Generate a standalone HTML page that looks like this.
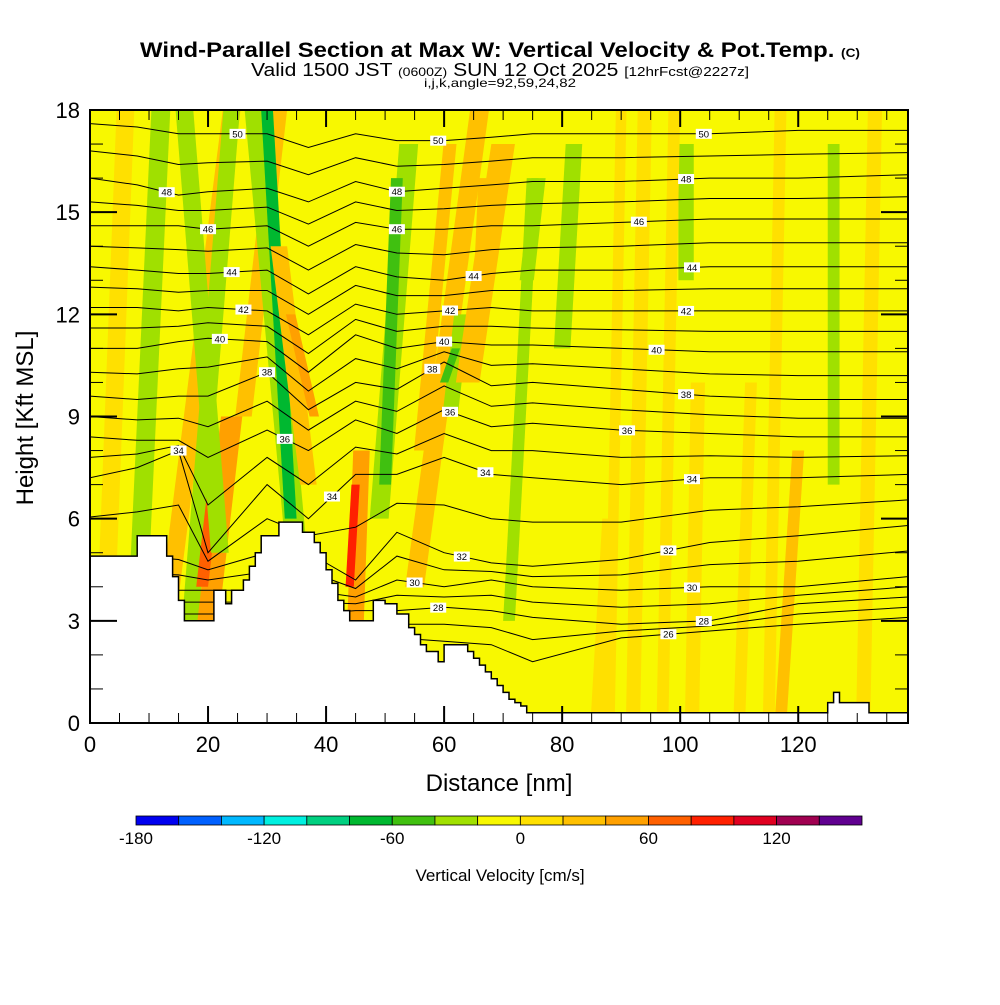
<!DOCTYPE html>
<html><head><meta charset="utf-8">
<style>
body{margin:0;background:#fff;font-family:"Liberation Sans",sans-serif;}
svg text{font-family:"Liberation Sans",sans-serif;}
</style></head>
<body>
<svg id="chart" width="1000" height="1000" viewBox="0 0 1000 1000" xmlns="http://www.w3.org/2000/svg">
<rect width="1000" height="1000" fill="#fff"/>
<text x="500" y="57" text-anchor="middle" font-size="21" font-weight="bold" textLength="720" lengthAdjust="spacingAndGlyphs">Wind-Parallel Section at Max W: Vertical Velocity &amp; Pot.Temp. <tspan font-size="12">(C)</tspan></text>
<text x="500" y="76" text-anchor="middle" font-size="18" textLength="498" lengthAdjust="spacingAndGlyphs">Valid 1500 JST <tspan font-size="12">(0600Z)</tspan> SUN 12 Oct 2025 <tspan font-size="13">[12hrFcst@2227z]</tspan></text>
<text x="500" y="87" text-anchor="middle" font-size="12" textLength="152" lengthAdjust="spacingAndGlyphs">i,j,k,angle=92,59,24,82</text>
<defs><clipPath id="plotclip"><rect x="90" y="110" width="818" height="613"/></clipPath></defs>
<g id="plot" clip-path="url(#plotclip)"></g>
<g id="axes"></g>
<g id="cbar"></g>
<text x="499" y="791" text-anchor="middle" font-size="24">Distance [nm]</text>
<text x="0" y="0" text-anchor="middle" font-size="24" transform="translate(33 418) rotate(-90)">Height [Kft MSL]</text>
<text x="500" y="881" text-anchor="middle" font-size="17">Vertical Velocity [cm/s]</text>
</svg>
<script>
// ---- data ----
const xTicks=[0,20,40,60,80,100,120];
const yTicks=[0,3,6,9,12,15,18];
const cbLevels=[-180,-160,-140,-120,-100,-80,-60,-40,-20,0,20,40,60,80,100,120,140,160];
const cbColors=["#0000f0","#0060ff","#00b8ff","#00f0e0","#00d080","#00b830","#40c010","#a0e000","#f8f800","#ffe000","#ffc000","#ffa000","#ff6000","#ff2000","#e00020","#a00050","#600090"];
const cbTickVals=[-180,-120,-60,0,60,120];
// terrain (distance nm, height kft) step profile
const terrDist=[0,7,8,12,13,14,15,16,20,21,22,23,24,26,27,28,29,31,32,33,35,36,37,38,39,40,41,42,43,44,47,48,50,52,54,55,56,57,58,59,60,61,63,64,65,66,67,68,69,70,71,72,73,74,75,124,125,126,127,131,132,138.6];
const terrH=[4.9,4.9,5.5,5.5,4.9,4.3,3.6,3.0,3.0,3.9,3.9,3.5,3.9,4.2,4.6,5.0,5.5,5.5,5.9,5.9,5.9,5.6,5.6,5.3,5.0,4.5,4.1,3.6,3.3,3.0,3.0,3.6,3.5,3.2,2.8,2.6,2.3,2.1,2.1,1.8,2.3,2.3,2.3,2.1,1.9,1.7,1.5,1.3,1.1,0.9,0.7,0.6,0.5,0.3,0.3,0.3,0.6,0.9,0.6,0.6,0.3,0.3];
// velocity streaks: bottom dist, bottom height, top dist, top height, half-width (nm), value (cm/s)
const stBotX=[2,8,13,17,20,19,22,26,35,34,37,38,45,44,49,50,55,56,61,60,64,66,71,74,80,86,92,101,102,110,117,126,131,88,97,115];
const stBotY=[0,3,3,3,3,4,5,9,5,6,7,9,3,4,6,7,4,8,9,10,10,12,3,13,11,0,0,13,0,0,0,7,0,0,0,0];
const stTopX=[6,12,24,24,24,21,16,32,28,30,32,34,46,45,54,52,66,61,63,62,70,67,75,76,82,88,94,101,103,112,120,126,133,90,99,117];
const stTopY=[18,18,18,18,9,7,18,18,18,18,14,12,8,7,17,16,18,17,12,11,17,16,16,16,17,6,18,17,10,10,8,17,18,18,18,18];
const stHW=[1.5,1.6,1.5,1.4,1.8,1.0,1.5,1.4,1.8,1.0,1.4,0.8,1.4,0.7,1.6,1.0,1.6,1.1,1.3,0.7,2.0,1.2,1.0,1.2,1.4,1.2,1.2,1.3,1.2,1.0,1.0,1.0,1.2,0.9,1.0,1.0];
const stVal=[10,-30,30,-30,50,70,-30,30,-30,-70,30,50,50,90,-30,-50,30,30,-30,-50,30,30,-30,-30,-30,10,10,-30,10,10,30,-30,10,10,10,10];
// potential temperature contours (even levels), heights at sample distances
const thDist=[0,8,15,20,30,37,45,52,60,68,75,90,105,120,138.6];
const thLevels=[26,28,30,32,34,36,38,40,42,44,46,48,50];
const thH={
26:[2.3,2.3,2.3,2.3,2.3,2.3,2.3,2.5,2.4,2.3,1.8,2.5,2.7,2.9,3.1],
28:[3.2,3.2,3.2,3.2,3.2,3.2,3.3,3.3,3.4,3.3,3.1,2.9,3.0,3.5,3.7],
30:[3.9,3.9,3.9,3.9,3.9,3.9,3.7,4.2,4.0,4.2,4.0,3.9,4.0,4.0,4.3],
32:[4.9,4.9,4.8,4.5,5.0,5.0,4.2,5.6,5.0,4.7,4.6,4.8,5.3,5.5,5.8],
34:[7.2,7.5,8.0,5.0,7.0,6.0,7.3,7.3,7.8,7.3,7.2,7.0,7.2,7.2,7.3],
36:[8.4,8.3,8.3,7.8,8.6,8.0,8.9,8.5,9.2,8.7,8.8,8.6,8.5,8.4,8.4],
38:[9.6,9.5,9.6,9.6,10.3,9.2,10.0,9.8,10.6,9.9,10.0,9.8,9.6,9.5,9.5],
40:[11.0,11.0,11.2,11.3,11.2,10.3,11.4,11.0,11.2,11.1,11.1,11.0,10.9,10.9,10.9],
42:[12.2,12.2,12.1,12.2,12.1,11.4,12.3,12.0,12.1,12.2,12.1,12.1,12.1,12.1,12.1],
44:[13.4,13.3,13.2,13.2,13.3,12.6,13.4,13.1,13.0,13.2,13.3,13.3,13.4,13.4,13.4],
46:[14.6,14.6,14.6,14.5,14.6,14.0,14.7,14.5,14.5,14.6,14.6,14.7,14.8,14.8,14.8],
48:[16.0,15.8,15.5,15.6,15.7,15.3,15.9,15.6,15.7,15.8,15.9,15.9,16.0,16.0,16.1],
50:[17.6,17.5,17.3,17.3,17.3,16.9,17.3,17.1,17.1,17.2,17.3,17.3,17.3,17.4,17.4]};
// contour labels: level, distance
const lblLevel=[50,48,46,44,42,40,38,36,34,50,48,46,44,42,40,38,36,34,32,30,28,50,48,46,44,42,40,38,36,34,32,30,28,26,34];
const lblDist=[25,13,20,24,26,22,30,33,15,59,52,52,65,61,60,58,61,67,63,55,59,104,101,93,102,101,96,101,91,102,98,102,104,98,41];
// ---- axis functions ----
const X=d=>90+d*(818/138.6);
const Y=h=>723-h*(613/18);
const NS="http://www.w3.org/2000/svg";
function mk(tag,attrs,parent){const e=document.createElementNS(NS,tag);for(const k in attrs)e.setAttribute(k,attrs[k]);parent.appendChild(e);return e;}
function colorFor(v){for(let i=0;i<cbColors.length;i++){if(v>=cbLevels[i]&&v<cbLevels[i+1])return cbColors[i];}return cbColors[cbColors.length-1];}
const plot=document.getElementById('plot');
const bg=mk('rect',{x:90,y:110,width:818,height:613,fill:"#f8f800"},plot);


// streaks
for(let i=0;i<stVal.length;i++){
  const hw=stHW[i];
  const pts=[[X(stBotX[i]-hw),Y(stBotY[i])],[X(stBotX[i]+hw),Y(stBotY[i])],[X(stTopX[i]+hw),Y(stTopY[i])],[X(stTopX[i]-hw),Y(stTopY[i])]];
  const p=mk('polygon',{points:pts.map(q=>q.join(',')).join(' '),fill:colorFor(stVal[i]),stroke:'none'},plot);
  
  
}
// theta contours: even levels from data, odd levels between
function drawContour(arr,lvl){
  let d='';
  for(let j=0;j<thDist.length;j++){d+=(j?'L':'M')+X(thDist[j]).toFixed(1)+','+Y(arr[j]).toFixed(1);}
  const p=mk('path',{d:d,fill:'none',stroke:'#000','stroke-width':1},plot);
  
  
}
for(let k=0;k<thLevels.length;k++){
  const L=thLevels[k];drawContour(thH[L],L);
  if(k<thLevels.length-1){const A=thH[L],B=thH[thLevels[k+1]];drawContour(A.map((v,j)=>(v+B[j])/2),L+1);}
}
// terrain
{let d='M'+X(0)+','+Y(0);
 for(let j=0;j<terrDist.length;j++){
   const x0=X(terrDist[j]);const x1=j<terrDist.length-1?X(terrDist[j+1]):X(138.6);
   d+='L'+x0.toFixed(1)+','+Y(terrH[j]).toFixed(1)+'L'+x1.toFixed(1)+','+Y(terrH[j]).toFixed(1);
 }
 d+='L'+X(138.6)+','+Y(0)+'Z';
 const t=mk('path',{d:d,fill:'#fff',stroke:'#000','stroke-width':1.5},plot);
 
 }
// labels
function hAt(arr,dd){for(let j=0;j<thDist.length-1;j++){if(dd>=thDist[j]&&dd<=thDist[j+1]){const f=(dd-thDist[j])/(thDist[j+1]-thDist[j]);return arr[j]+f*(arr[j+1]-arr[j]);}}return arr[arr.length-1];}
for(let i=0;i<lblLevel.length;i++){
  const x=X(lblDist[i]),y=Y(hAt(thH[lblLevel[i]],lblDist[i]));
  const g=mk('g',{},plot);
  
  
  mk('rect',{x:x-8,y:y-5,width:16,height:10,fill:'#fff'},g);
  const t=mk('text',{x:x,y:y+3.5,'text-anchor':'middle','font-size':9.5,'font-family':'Liberation Mono, monospace'},g);
  t.textContent=lblLevel[i];
}
// axes
const ax=document.getElementById('axes');
const fr=mk('rect',{x:90,y:110,width:818,height:613,fill:'none',stroke:'#000','stroke-width':2},ax);


for(let d=0;d<=135;d+=5){const maj=d%20===0;const L=maj?17:10;
  mk('line',{x1:X(d),x2:X(d),y1:723,y2:723-L,stroke:'#000','stroke-width':maj?2:1},ax);
  mk('line',{x1:X(d),x2:X(d),y1:110,y2:110+L,stroke:'#000','stroke-width':maj?2:1},ax);}
for(let h=0;h<=18;h++){const maj=h%3===0;const L=maj?27:13;
  mk('line',{x1:90,x2:90+L,y1:Y(h),y2:Y(h),stroke:'#000','stroke-width':maj?2:1},ax);
  mk('line',{x1:908,x2:908-L,y1:Y(h),y2:Y(h),stroke:'#000','stroke-width':maj?2:1},ax);}
xTicks.forEach(v=>{const t=mk('text',{x:X(v),y:752,'text-anchor':'middle','font-size':22},ax);
  
  
  t.textContent=v;});
yTicks.forEach(v=>{const t=mk('text',{x:80,y:Y(v)+8,'text-anchor':'end','font-size':22},ax);
  
  
  t.textContent=v;});
// colorbar
const cb=document.getElementById('cbar');
const cbX=v=>136+(v+180)*(726/340);
for(let i=0;i<cbColors.length;i++){
  const r=mk('rect',{x:cbX(cbLevels[i]),y:816,width:cbX(cbLevels[i+1])-cbX(cbLevels[i]),height:9,fill:cbColors[i],stroke:'#000','stroke-width':0.8},cb);
  
  
}
cbTickVals.forEach(v=>{const t=mk('text',{x:cbX(v),y:844,'text-anchor':'middle','font-size':17},cb);
  
  
  t.textContent=v;});
</script>
</body></html>
